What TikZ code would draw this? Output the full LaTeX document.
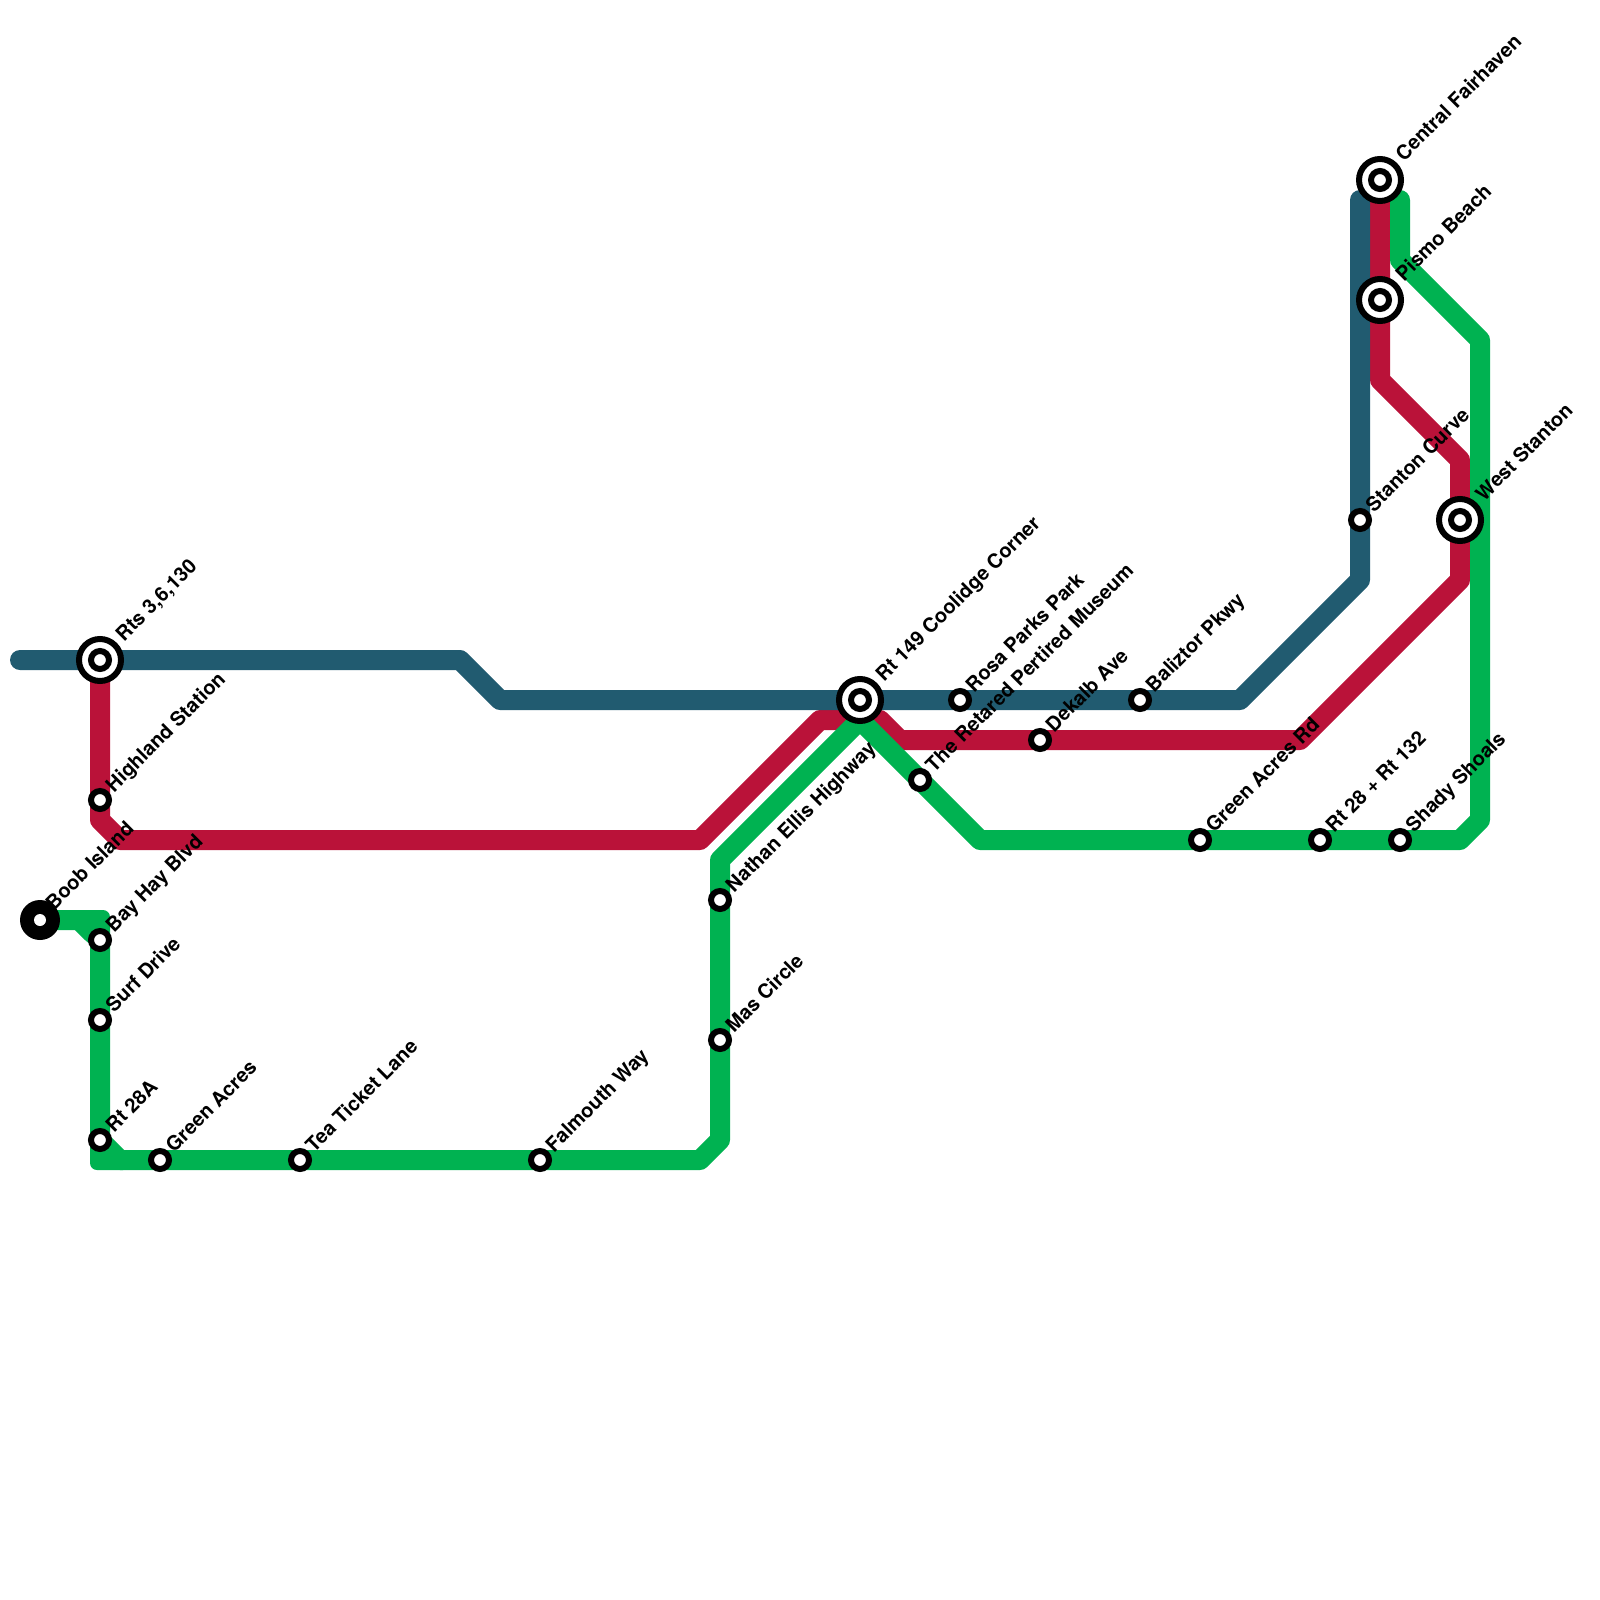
\documentclass[tikz,border=0pt]{standalone}
\usepackage{fontspec}
\setmainfont{TeX Gyre Heros}
\usetikzlibrary{calc}
\definecolor{lblue}{HTML}{215B70}
\definecolor{lred}{HTML}{BA1239}
\definecolor{lgreen}{HTML}{00B251}
\tikzset{
  metro/.style={line width=20pt,line join=round,line cap=round},
  bluel/.style={metro,draw=lblue},
  redl/.style={metro,draw=lred},
  greenl/.style={metro,draw=lgreen},
  stn/.style={circle,draw=black,fill=white,line width=6pt,minimum size=18pt,inner sep=0pt,outer sep=0pt},
  hub/.style={circle,draw=black,fill=white,line width=6pt,minimum size=42pt,inner sep=0pt,outer sep=0pt},
  term/.style={circle,fill=black,minimum size=40pt,inner sep=0pt,outer sep=0pt},
  termeye/.style={circle,fill=white,minimum size=12pt,inner sep=0pt,outer sep=0pt},
  lab/.style={anchor=base west,rotate=45,inner sep=0pt,outer sep=0pt,font=\fontsize{20}{24}\selectfont\bfseries},
}
\newcommand{\mystn}[3]{\node[stn] (#1) at (#2) {};\node[lab] (#1-l) at ($(#1)+(14,-7)$) {#3};}
\newcommand{\myhub}[3]{\node[hub] (#1) at (#2) {};\node[stn] (#1-i) at (#1) {};\node[lab] (#1-l) at ($(#1)+(24,-18)$) {#3};}
\begin{document}
\begin{tikzpicture}[x=1pt,y=-1pt]
\useasboundingbox (0,0) rectangle (1600,1600);
% lines
\draw[redl] (1380,190) -- (1380,380) -- (1460,460) -- (1460,580) -- (1300,740) -- (900,740) -- (880,720) -- (820,720) -- (700,840) -- (120,840) -- (100,820) -- (100,660);
\draw[bluel] (20,660) -- (460,660) -- (500,700) -- (1240,700) -- (1360,580) -- (1360,200);
\draw[greenl] (40,920) -- (80,920) -- (100,940) -- (100,1140) -- (120,1160) -- (700,1160) -- (720,1140) -- (720,860) -- (860,720) -- (980,840) -- (1460,840) -- (1480,820) -- (1480,340) -- (1400,260) -- (1400,200);
\fill[lgreen,rounded corners=7pt] (70,910) -- (110,910) -- (110,950) -- (90,945) -- (70,925) -- cycle;
\fill[lgreen,rounded corners=7pt] (90,1130) -- (90,1170) -- (130,1170) -- (112,1148) -- cycle;
% stations
\node[term] (boob) at (40,920) {};
\node[termeye] (boob-i) at (boob) {};
\node[lab] (boob-l) at ($(boob)+(14,-9)$) {Boob Island};
\myhub{rts}{100,660}{Rts 3,6,130}
\mystn{highland}{100,800}{Highland Station}
\mystn{bayhay}{100,940}{Bay Hay Blvd}
\mystn{surf}{100,1020}{Surf Drive}
\mystn{rta}{100,1140}{Rt 28A}
\mystn{gacres}{160,1160}{Green Acres}
\mystn{tea}{300,1160}{Tea Ticket Lane}
\mystn{falmouth}{540,1160}{Falmouth Way}
\mystn{nathan}{720,900}{Nathan Ellis Highway}
\mystn{mas}{720,1040}{Mas Circle}
\myhub{coolidge}{860,700}{Rt 149 Coolidge Corner}
\mystn{rosa}{960,700}{Rosa Parks Park}
\mystn{retared}{920,780}{The Retared Pertired Museum}
\mystn{dekalb}{1040,740}{Dekalb Ave}
\mystn{baliztor}{1140,700}{Baliztor Pkwy}
\mystn{gacresrd}{1200,840}{Green Acres Rd}
\mystn{rtpair}{1320,840}{Rt 28 + Rt 132}
\mystn{shady}{1400,840}{Shady Shoals}
\mystn{stanton}{1360,520}{Stanton Curve}
\myhub{west}{1460,520}{West Stanton}
\myhub{central}{1380,180}{Central Fairhaven}
\myhub{pismo}{1380,300}{Pismo Beach}
\end{tikzpicture}
\end{document}
